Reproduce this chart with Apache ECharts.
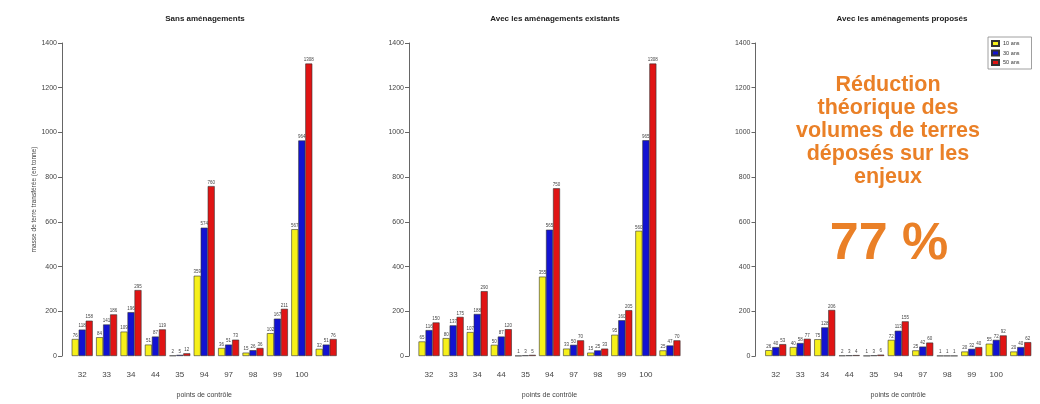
<!DOCTYPE html>
<html><head><meta charset="utf-8">
<script src="https://cdn.jsdelivr.net/npm/echarts@6/dist/echarts.min.js"></script>
<style>html,body{margin:0;padding:0;background:#fff}#c{width:1040px;height:404px}</style>
</head><body><div id="c"></div>
<script>
const categories = ['32','33','34','44','35','94','97','98','99','100',''];
const seriesNames = ['10 ans','30 ans','50 ans'];
const panelTitles = ['Sans aménagements','Avec les aménagements existants','Avec les aménagements proposés'];
const yTicks = [0,200,400,600,800,1000,1200,1400];
// Sans aménagements
const sans10 = [76, 84, 109, 51, 2, 359, 36, 15, 102, 567, 32];
const sans30 = [118, 141, 196, 87, 5, 574, 51, 26, 167, 964, 51];
const sans50 = [158, 186, 295, 119, 12, 760, 73, 36, 211, 1308, 76];
// Avec les aménagements existants
const exist10 = [65, 80, 107, 50, 1, 355, 33, 15, 95, 560, 25];
const exist30 = [116, 137, 188, 87, 3, 565, 50, 25, 160, 965, 47];
const exist50 = [150, 175, 290, 120, 5, 750, 70, 33, 205, 1308, 70];
// Avec les aménagements proposés
const prop10 = [26, 40, 75, 2, 1, 72, 25, 1, 20, 55, 20];
const prop30 = [40, 58, 128, 3, 3, 113, 42, 1, 32, 72, 40];
const prop50 = [53, 77, 206, 4, 6, 155, 60, 1, 40, 92, 62];
const annotationLines = ['Réduction','théorique des','volumes de terres','déposés sur les','enjeux'];
const reductionText = '77 %';

const colors = ['#f6f01a','#1212d2','#e01414'];
const panels = [[sans10,sans30,sans50],[exist10,exist30,exist50],[prop10,prop30,prop50]];
const font = 'Liberation Sans, Arial, sans-serif';
const grids = [
  {left:70, top:43, width:268.4, height:320},
  {left:417, top:43, width:265, height:320},
  {left:763.5, top:43, width:269.5, height:320}
];
const titleCenters = [200, 550, 897];

const option = {
  animation:false,
  textStyle:{fontFamily:font},
  title: panelTitles.map((t,i)=>({text:t, left:titleCenters[i], top:10, textAlign:'center',
    textStyle:{fontSize:8, fontWeight:'bold', color:'#222', fontFamily:font}})),
  grid: grids,
  legend:{data:seriesNames, orient:'vertical', left:988, top:37, itemWidth:7, itemHeight:5, itemGap:2.5,
    padding:[3,12,3,3], borderColor:'#888', borderWidth:0.8, icon:'rect',
    textStyle:{fontSize:5.5, color:'#333', fontFamily:font, padding:[0,0,0,-1]}},
  xAxis: grids.map((g,i)=>({type:'category', gridIndex:i, data:categories,
    axisLine:{show:false}, axisTick:{show:false},
    axisLabel:{fontSize:8, color:'#444', margin:15, fontFamily:font},
    name:'points de contrôle', nameLocation:'middle', nameGap:36,
    nameTextStyle:{fontSize:7, color:'#444', fontFamily:font}})),
  yAxis: grids.map((g,i)=>({type:'value', gridIndex:i, min:0, max:1400, interval:200, offset:8,
    axisLine:{show:true, lineStyle:{color:'#666', width:1}},
    axisTick:{show:true, length:4, lineStyle:{color:'#666'}},
    splitLine:{show:false},
    axisLabel:{fontSize:7, color:'#444', margin:5, fontFamily:font,
      formatter:v=>yTicks.includes(v)?String(v):''},
    name: i===0 ? 'masse de terre transférée (en tonne)' : '',
    nameLocation:'middle', nameGap:24, nameRotate:90,
    nameTextStyle:{fontSize:6.5, color:'#444', fontFamily:font}})),
  series: [],
  graphic: []
};
panels.forEach((p,pi)=>{
  p.forEach((vals,si)=>{
    option.series.push({type:'bar', name:seriesNames[si], xAxisIndex:pi, yAxisIndex:pi, data:vals,
      barWidth:7, barGap:'0%',
      itemStyle:{color:colors[si], borderColor:'#333', borderWidth:0.6},
      label:{show:true, position:'top', distance:1, fontSize:4.5, color:'#444', fontFamily:font}});
  });
});
annotationLines.forEach((t,i)=>{
  option.graphic.push({type:'text', style:{text:t, x:888, y:85+i*23, textAlign:'center', textVerticalAlign:'middle',
    font:'bold 21.5px '+font, fill:'#ea8027'}});
});
option.graphic.push({type:'text', style:{text:reductionText, x:889, y:245, textAlign:'center', textVerticalAlign:'middle',
  font:'bold 52px '+font, fill:'#ea8027'}});
echarts.init(document.getElementById('c'),null,{renderer:'canvas'}).setOption(option);
</script></body></html>
